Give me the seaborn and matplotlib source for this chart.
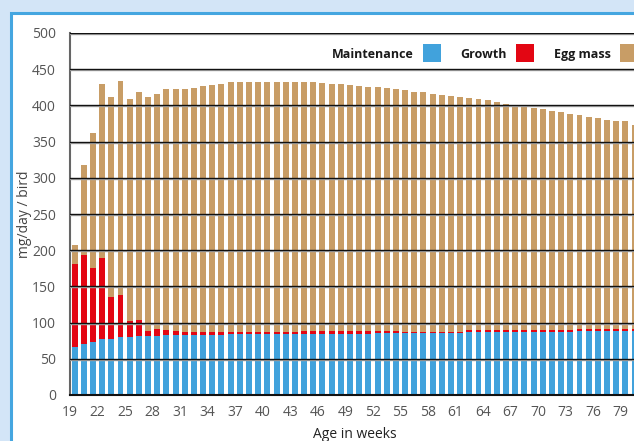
"""Daily nutrient requirement per laying hen, split into maintenance, growth and egg mass."""

import matplotlib.pyplot as plt
import numpy as np
import pandas as pd
import seaborn as sns
from matplotlib.patches import Rectangle

# ---- data (mg / day / bird) ----
weeks = list(range(19, 81))

maintenance = (
    [66, 70, 73, 77, 78, 80, 80, 81, 81, 81]
    + [82.5] * 7
    + [84] * 16
    + [85] * 3
    + [85] * 7
    + [86.5] * 12
    + [88] * 7
)

growth = (
    [115, 123.5, 102.5, 112.5, 57, 58.5, 22, 22, 7, 9.5, 7, 5.5]
    + [4] * 5
    + [2.7] * 8
    + [4] * 8
    + [4] * 3
    + [2.7] * 7
    + [2.8] * 12
    + [2.7] * 7
)

total = (
    [207, 317, 362, 430, 411, 434, 409, 419, 411, 416, 422, 423, 423, 424,
     427, 428, 430]
    + [432.5] * 10
    + [431, 430, 430, 428, 427, 426, 426, 424, 423, 421.5, 419, 419, 416,
       414.5, 413, 411.5, 410, 409, 407.5, 405, 402, 400.7, 399.3, 396.6,
       395.2, 392.4, 391, 388.3, 387, 384, 382.7, 380, 378.7, 378.7, 373]
)

tick_weeks = list(range(19, 80, 3))
y_ticks = list(range(0, 501, 50))

series_names = ["Maintenance", "Growth", "Egg mass"]
BLUE, RED, TAN = "#41a2dc", "#e30613", "#c89d66"


def main() -> None:
    m = np.array(maintenance)
    g = np.array(growth)
    egg_mass = np.array(total) - m - g

    df = pd.DataFrame({
        "week": weeks,
        "maint": m,
        "maint_growth": m + g,
        "all": m + g + egg_mass,
    })

    sns.set_style("white")
    plt.rcParams["font.family"] = ["Open Sans", "DejaVu Sans"]

    W, H = 634, 441
    fig = plt.figure(figsize=(W / 100, H / 100), dpi=100)
    fig.patch.set_facecolor("#d3e5f7")
    fig.patches.append(Rectangle(
        (11 / W, -0.05), 1.0, (H - 13) / H + 0.05,
        transform=fig.transFigure, facecolor="white",
        edgecolor="#45a6e0", linewidth=2.2, zorder=-10,
    ))

    # axes runs past the right edge of the figure, as in the original crop
    ax = fig.add_axes([70 / W, 46 / H, 570 / W, 362 / H])
    ax.patch.set_alpha(0)

    for col, colour in [("all", TAN), ("maint_growth", RED), ("maint", BLUE)]:
        sns.barplot(data=df, x="week", y=col, color=colour, saturation=1,
                    width=0.65, linewidth=0, ax=ax, zorder=2)

    for v in y_ticks[1:]:
        ax.axhline(v - 1.3, color="#aaaaaa", lw=1.0, zorder=4)
        ax.axhline(v, color="#111111", lw=1.0, zorder=5)

    ax.set_xlim(-0.5, -0.5 + 570 / 9.18)
    ax.set_ylim(0, 500)
    ax.set_xticks([w - weeks[0] - 0.5 for w in tick_weeks])
    ax.set_xticklabels([str(w) for w in tick_weeks])
    ax.set_yticks(y_ticks)
    ax.set_yticklabels([str(v) for v in y_ticks])

    ax.tick_params(axis="y", length=8, width=1, color="#111111", pad=2,
                   labelsize=10, labelcolor="#555555")
    ax.tick_params(axis="x", length=5, width=1.5, color="#777777", pad=2,
                   labelsize=10, labelcolor="#555555")

    for side in ("top", "right"):
        ax.spines[side].set_visible(False)
    ax.spines["left"].set_color("#666666")
    ax.spines["left"].set_linewidth(1.5)
    ax.spines["bottom"].set_color("#111111")
    ax.spines["bottom"].set_linewidth(1.5)
    ax.spines["bottom"].set_zorder(6)

    ax.set_xlabel("Age in weeks", fontsize=10, color="#222222")
    ax.xaxis.set_label_coords(0.5, (395 - 427) / 362)
    ax.set_ylabel("mg/day / bird", fontsize=10, color="#444444")
    ax.yaxis.set_label_coords((32 - 70) / 570, 0.5)

    # legend: label first, then a colour square
    for name, colour, sq_x in zip(series_names, [BLUE, RED, TAN], [423, 516, 620]):
        fig.patches.append(Rectangle(
            (sq_x / W, (H - 62) / H), 18 / W, 18 / H,
            transform=fig.transFigure, facecolor=colour, edgecolor="none",
            zorder=10,
        ))
        fig.text((sq_x - 9) / W, (H - 58) / H, name, ha="right",
                 va="baseline", fontsize=9, fontweight="bold",
                 color="#1a1a1a")

    fig.savefig("out.png", dpi=100)


if __name__ == "__main__":
    main()
